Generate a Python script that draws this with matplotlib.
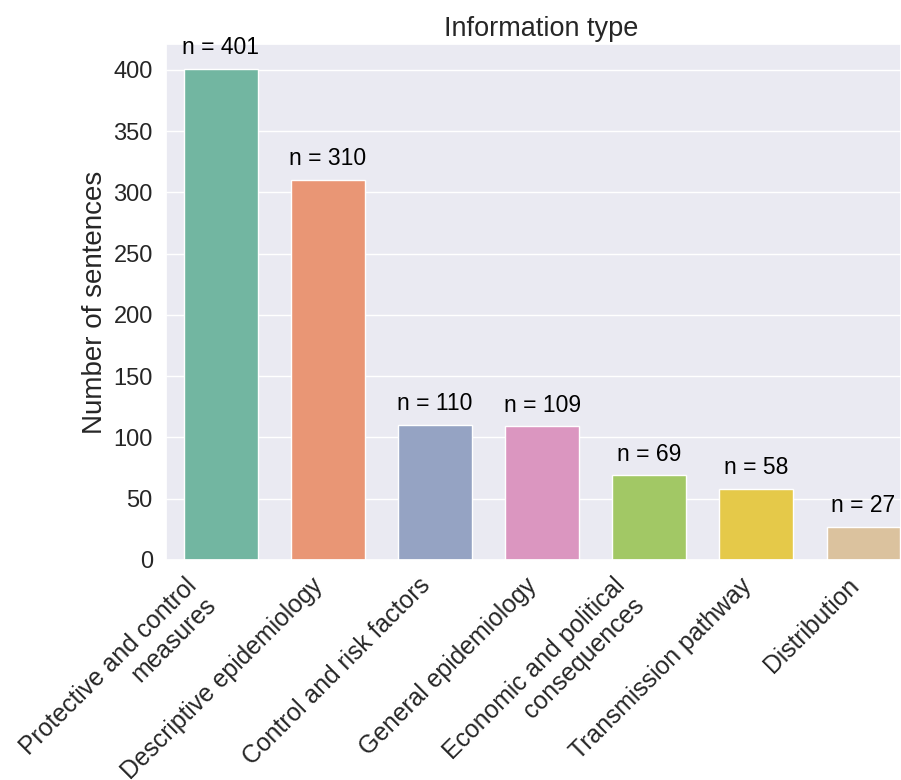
import matplotlib
matplotlib.use("Agg")
import matplotlib.pyplot as plt
import seaborn as sns

categories = ["Protective and control\nmeasures", "Descriptive epidemiology",
              "Control and risk factors", "General epidemiology",
              "Economic and political\nconsequences", "Transmission pathway",
              "Distribution"]
counts = [401, 310, 110, 109, 69, 58, 27]
yticks = [0, 50, 100, 150, 200, 250, 300, 350, 400]

sns.set_theme(style="darkgrid")
plt.rcParams['font.family'] = ['Arial', 'Liberation Sans', 'DejaVu Sans']

fig = plt.figure(figsize=(9.01, 7.8), dpi=100)
ax = fig.add_axes([166/901, 1-560/780, (901-166)/901, (560-44)/780])
colors = [sns.desaturate(c, 0.75) for c in sns.color_palette("Set2", len(categories))]
x = list(range(len(categories)))
ax.bar(x, counts, width=0.69, color=colors, edgecolor='white', linewidth=1)
for xi, c in zip(x, counts):
    ax.text(xi, c + 8, f"n = {c}", ha='center', va='bottom', fontsize=16.5, color='black')
ax.set_xlim(-0.51, 6.35)
ax.set_ylim(0, 421)
ax.set_yticks(yticks)
ax.set_yticklabels([str(t) for t in yticks], fontsize=17)
ax.set_xticks(x)
ax.set_xticklabels(categories, rotation=45, ha='right', fontsize=17.8)
ax.set_ylabel("Number of sentences", fontsize=20)
ax.set_title("Information type", fontsize=19.5, x=0.51)
ax.grid(axis='x', visible=False)
fig.savefig("out.png", dpi=100)
